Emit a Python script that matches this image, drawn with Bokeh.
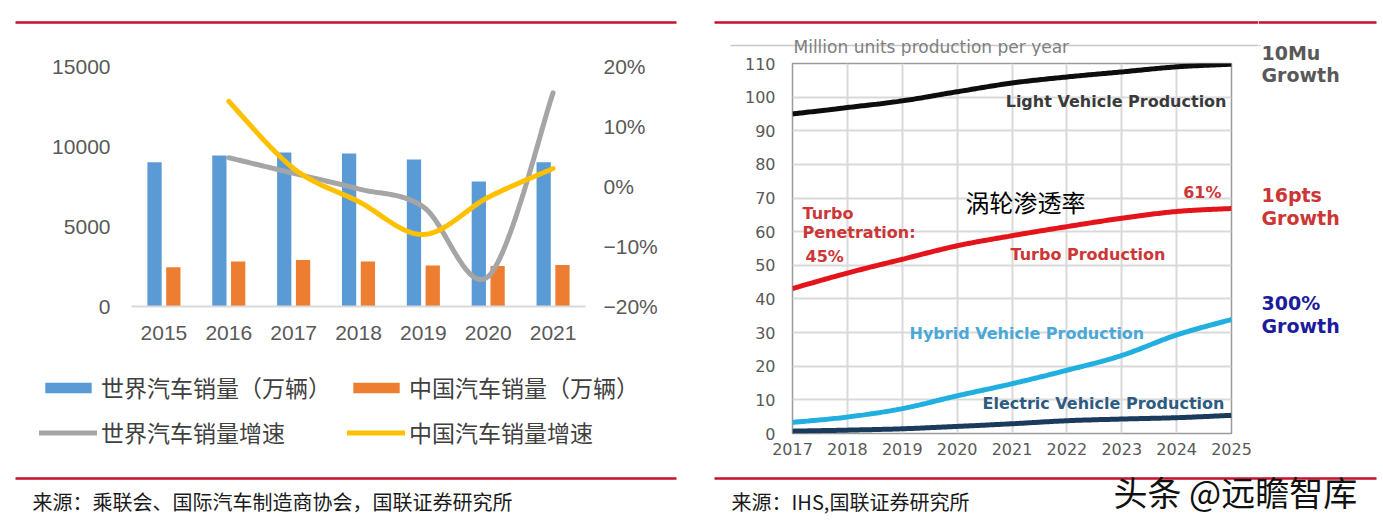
import numpy as np
from bokeh.plotting import figure
from bokeh.models import (Range1d, LinearAxis, FixedTicker, Legend, LegendItem, Label,
                          ColumnDataSource)
from bokeh.transform import dodge
from bokeh.layouts import row, column
from bokeh.embed import file_html
from bokeh.resources import INLINE

# ---------------- left chart data ----------------
years = [2015, 2016, 2017, 2018, 2019, 2020, 2021]
world_sales = [9010, 9430, 9620, 9560, 9180, 7810, 9010]      # 万辆
china_sales = [2450, 2820, 2900, 2820, 2570, 2530, 2590]      # 万辆
growth_years = [2016, 2017, 2018, 2019, 2020, 2021]
world_growth = [4.8, 2.2, -0.4, -3.4, -15.0, 15.6]            # %
china_growth = [14.2, 3.0, -2.5, -8.0, -1.8, 3.0]             # %
sales_ticks = [0, 5000, 10000, 15000]
pct_ticks = [-20, -10, 0, 10, 20]
pct_tick_labels = ["−20%", "−10%", "0%", "10%", "20%"]
legend_labels = ["世界汽车销量（万辆）", "中国汽车销量（万辆）", "世界汽车销量增速", "中国汽车销量增速"]
source_left = "来源：乘联会、国际汽车制造商协会，国联证券研究所"

# ---------------- right chart data ----------------
proj_years = [2017, 2018, 2019, 2020, 2021, 2022, 2023, 2024, 2025]
light_vehicle = [95.0, 96.9, 98.9, 101.6, 104.2, 106.0, 107.5, 109.0, 109.8]
turbo = [43.1, 47.7, 51.8, 55.8, 58.8, 61.5, 64.0, 66.0, 66.9]
hybrid = [3.3, 4.9, 7.4, 11.2, 14.8, 18.8, 23.2, 29.3, 33.9]
electric = [0.7, 1.0, 1.4, 2.1, 2.9, 3.8, 4.3, 4.7, 5.4]
units_ticks = [0, 10, 20, 30, 40, 50, 60, 70, 80, 90, 100, 110]
source_right = "来源：IHS,国联证券研究所"
watermark = "头条 @远瞻智库"


def smooth_path(xs, ys, steps=30):
    """Excel-style smoothed line: cubic Bezier through the data points."""
    pts = np.column_stack([np.asarray(xs, float), np.asarray(ys, float)])
    n = len(pts)
    out = []
    for i in range(n - 1):
        p0 = pts[max(i - 1, 0)]
        p1 = pts[i]
        p2 = pts[i + 1]
        p3 = pts[min(i + 2, n - 1)]
        c1 = p1 + (p2 - p0) / 6.0
        c2 = p2 - (p3 - p1) / 6.0
        t = np.linspace(0, 1, steps, endpoint=(i == n - 2))[:, None]
        seg = ((1 - t) ** 3) * p1 + 3 * ((1 - t) ** 2) * t * c1 + 3 * (1 - t) * t ** 2 * c2 + t ** 3 * p2
        out.append(seg)
    arr = np.vstack(out)
    return arr[:, 0], arr[:, 1]


RED = "#c5112d"
CJK = "Noto Sans CJK SC"
NAN = float("nan")


def no_align(fig):
    try:
        fig.frame_align = False
    except Exception:
        pass
    return fig


def aux(x0, x1, y0, y1):
    """Blank decoration panel whose data coordinates equal page pixels."""
    f = figure(width=x1 - x0, height=y1 - y0, x_range=Range1d(x0, x1), y_range=Range1d(y1, y0),
               min_border=0, x_axis_location=None, y_axis_location=None,
               toolbar_location=None, output_backend="svg", outline_line_color=None,
               background_fill_color="white", border_fill_color="white")
    for g in f.grid:
        g.visible = False
    return no_align(f)


def rule(f, x0, x1, y, width, color):
    f.segment(x0=[x0], y0=[y], x1=[x1], y1=[y], line_color=color, line_width=width)


def tlabel(f, text, x, y, size, color, font=CJK, style="normal", align="left"):
    f.add_layout(Label(x=x, y=y, text=text, text_font=font, text_font_size=size,
                       text_color=color, text_font_style=style, text_align=align,
                       text_baseline="middle"))


# =============== LEFT COLUMN ===============
LT = aux(0, 700, 0, 44)
rule(LT, 15, 676, 22, 2.5, RED)

LC = figure(width=700, height=316, x_range=Range1d(2014.5, 2021.5), y_range=Range1d(0, 15000),
            output_backend="svg", toolbar_location=None,
            min_border_left=131, min_border_right=115, min_border_top=22, min_border_bottom=54,
            outline_line_color=None, background_fill_color="white", border_fill_color="white")
no_align(LC)
LC.extra_y_ranges = {"pct": Range1d(-20, 20)}
LC.xgrid.visible = False
LC.ygrid.visible = False

src = ColumnDataSource(dict(year=years, world=world_sales, china=china_sales))
LC.vbar(x=dodge("year", -0.145), top="world", width=0.22, source=src,
        fill_color="#5b9bd5", line_color=None)
LC.vbar(x=dodge("year", 0.145), top="china", width=0.22, source=src,
        fill_color="#ed7d31", line_color=None)
wx, wy = smooth_path(growth_years, world_growth)
cx, cy = smooth_path(growth_years, china_growth)
LC.line(wx, wy, y_range_name="pct", line_color="#a5a5a5", line_width=5, line_cap="round")
LC.line(cx, cy, y_range_name="pct", line_color="#ffc000", line_width=5, line_cap="round")

LC.yaxis.ticker = FixedTicker(ticks=sales_ticks)
LC.yaxis.major_label_standoff = 21
pct_axis = LinearAxis(y_range_name="pct", ticker=FixedTicker(ticks=pct_ticks),
                      major_label_overrides={t: s for t, s in zip(pct_ticks, pct_tick_labels)})
pct_axis.major_label_standoff = 18
LC.add_layout(pct_axis, "right")
for ax in list(LC.yaxis) + list(LC.xaxis):
    ax.axis_line_color = None
    ax.major_tick_line_color = None
    ax.minor_tick_line_color = None
    ax.major_tick_out = 0
    ax.major_tick_in = 0
    ax.major_label_text_font = "Liberation Sans"
    ax.major_label_text_font_size = "21px"
    ax.major_label_text_color = "#595959"
LC.xaxis.ticker = FixedTicker(ticks=years)
LC.xaxis.axis_line_color = "#d9d9d9"
LC.xaxis.axis_line_width = 2
LC.xaxis.major_label_standoff = 19

# legend panel (swatches come from invisible proxy glyphs with the same styles)
LB = aux(0, 700, 360, 526)
p_world = LB.vbar(x=[100], top=[NAN], bottom=[NAN], width=1, fill_color="#5b9bd5", line_color=None)
p_china = LB.vbar(x=[100], top=[NAN], bottom=[NAN], width=1, fill_color="#ed7d31", line_color=None)
p_wg = LB.line(x=[100, 101], y=[NAN, NAN], line_color="#a5a5a5", line_width=5, line_cap="round")
p_cg = LB.line(x=[100, 101], y=[NAN, NAN], line_color="#ffc000", line_width=5, line_cap="round")
leg_common = dict(orientation="horizontal", glyph_width=58, glyph_height=13, label_standoff=4,
                  label_width=240, spacing=6, padding=0, margin=0, border_line_color=None,
                  background_fill_alpha=0, label_text_font=CJK, label_text_font_size="23px",
                  label_text_color="#404040", label_text_baseline="middle")
LEG_H = 30
leg1 = Legend(items=[LegendItem(label=legend_labels[0], renderers=[p_world]),
                     LegendItem(label=legend_labels[1], renderers=[p_china])],
              location=(39, (526 - 389) - LEG_H / 2), **leg_common)
leg2 = Legend(items=[LegendItem(label=legend_labels[2], renderers=[p_wg]),
                     LegendItem(label=legend_labels[3], renderers=[p_cg])],
              location=(39, (526 - 434) - LEG_H / 2), **leg_common)
LB.add_layout(leg1)
LB.add_layout(leg2)
rule(LB, 15, 676, 478, 2.5, RED)
tlabel(LB, source_left, 32, 501, "20px", "#1a1a1a")

left_col = column(LT, LC, LB)

# =============== RIGHT COLUMN ===============
RT = aux(700, 1258, 0, 56)
rule(RT, 714, 1258, 22, 2.5, RED)
rule(RT, 730, 1258, 45, 1.5, "#c8c8c8")
tlabel(RT, "Million units production per year", 793, 46, "17px", "#7f7f7f", font="DejaVu Sans")

R_FL, R_FB = 792, 433
RC = figure(width=558, height=409, x_range=Range1d(2017, 2025), y_range=Range1d(0, 110),
            output_backend="svg", toolbar_location=None,
            min_border_left=92, min_border_right=27, min_border_top=7, min_border_bottom=32,
            outline_line_color="#9a9a9a", outline_line_width=1.5,
            background_fill_color="white", border_fill_color="white")
no_align(RC)
for g in (RC.xgrid, RC.ygrid):
    g.grid_line_color = "#d9d9d9"
    g.grid_line_width = 2
RC.xaxis.ticker = FixedTicker(ticks=proj_years)
RC.yaxis.ticker = FixedTicker(ticks=units_ticks)
for ax in list(RC.xaxis) + list(RC.yaxis):
    ax.axis_line_color = None
    ax.major_tick_line_color = None
    ax.minor_tick_line_color = None
    ax.major_tick_out = 0
    ax.major_tick_in = 0
    ax.major_label_text_font = "DejaVu Sans"
    ax.major_label_text_font_size = "16px"
    ax.major_label_text_color = "#595959"
RC.yaxis.major_label_standoff = 17
RC.xaxis.major_label_standoff = 9

for ys, col in ((hybrid, "#21afe0"), (electric, "#1a3b5c"), (turbo, "#e3151b"), (light_vehicle, "#0d0d0d")):
    xs_s, ys_s = smooth_path(proj_years, ys)
    RC.line(xs_s, ys_s, line_color=col, line_width=5)


def rlabel(text, px, py, size, color, font="DejaVu Sans", style="bold", align="left"):
    RC.add_layout(Label(x=px - R_FL, y=R_FB - py, x_units="screen", y_units="screen", text=text,
                        text_font=font, text_font_size=size, text_color=color,
                        text_font_style=style, text_align=align, text_baseline="middle"))


rlabel("Light Vehicle Production", 1226, 101, "16px", "#3a3a3a", align="right")
rlabel("涡轮渗透率", 965, 201, "24px", "#000000", font=CJK, style="normal")
rlabel("61%", 1221, 192, "16px", "#cc3636", align="right")
rlabel("Turbo", 802, 213, "16px", "#cc3636")
rlabel("Penetration:", 802, 232, "16px", "#cc3636")
rlabel("45%", 805, 256, "16px", "#cc3636")
rlabel("Turbo Production", 1010, 254, "16px", "#cc3636")
rlabel("Hybrid Vehicle Production", 909, 333, "16px", "#4aa8d8")
rlabel("Electric Vehicle Production", 982, 403, "16px", "#2e5b80")

RS = aux(1258, 1383, 0, 465)
rule(RS, 1258, 1376, 22, 2.5, RED)
rule(RS, 1258, 1260, 45, 1.5, "#c8c8c8")
for txt, y, col in (("10Mu", 52, "#595959"), ("Growth", 74, "#595959"),
                    ("16pts", 194, "#cc3636"), ("Growth", 217, "#cc3636"),
                    ("300%", 302, "#1c1c9c"), ("Growth", 325, "#1c1c9c")):
    tlabel(RS, txt, 1261, y, "19px", col, font="DejaVu Sans", style="bold")

RB = aux(700, 1383, 465, 526)
rule(RB, 714, 1376, 478, 2.5, RED)
tlabel(RB, source_right, 731, 501, "20px", "#1a1a1a")
tlabel(RB, watermark, 1113, 491, "34px", "#111111")

right_col = column(row(column(RT, RC), RS), RB)

layout = row(left_col, right_col)
open("out.html", "w").write(file_html(layout, INLINE))
